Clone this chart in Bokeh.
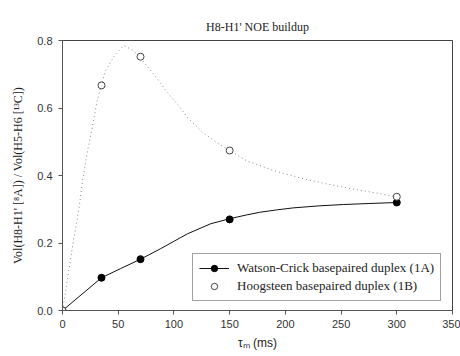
from bokeh.plotting import figure
from bokeh.models import Legend, LegendItem, Range1d, FixedTicker, NumeralTickFormatter
from bokeh.embed import file_html
from bokeh.resources import INLINE

# Data
tau_ms = [0, 35, 70, 150, 300]
wc_vals = [0.0, 0.097, 0.152, 0.270, 0.320]
hg_vals = [0.0, 0.667, 0.752, 0.474, 0.337]

# Fitted curves as drawn in the reference
wc_fit_x = [0, 35, 52, 70, 88, 112, 133, 150, 165, 177, 192, 207, 230, 252, 275, 300]
wc_fit_y = [0.0, 0.097, 0.124, 0.152, 0.183, 0.227, 0.257, 0.272, 0.283, 0.291, 0.298, 0.304, 0.310,
            0.314, 0.317, 0.320]
hg_fit_x = [0, 1, 9, 15, 18, 22, 27, 31, 35, 38.5, 47, 55, 64, 77, 85, 94, 106, 112, 126, 141, 150,
            165, 189, 213, 237, 261, 282, 300]
hg_fit_y = [0.0, 0.02, 0.19, 0.306, 0.385, 0.464, 0.548, 0.62, 0.67, 0.71, 0.757, 0.785, 0.77, 0.72,
            0.687, 0.646, 0.60, 0.572, 0.527, 0.492, 0.474, 0.444, 0.415, 0.393, 0.375, 0.36, 0.348, 0.336]

x_ticks = [0, 50, 100, 150, 200, 250, 300, 350]
y_ticks = [0.0, 0.2, 0.4, 0.6, 0.8]

p = figure(width=460, height=356, output_backend="svg", toolbar_location=None,
           x_range=Range1d(0, 350), y_range=Range1d(0, 0.8),
           min_border_left=62, min_border_right=8, min_border_top=40, min_border_bottom=46,
           title="H8-H1' NOE buildup")
p.title.align = "center"
p.title.text_font = "Liberation Serif"
p.title.text_font_size = "12px"
p.title.text_font_style = "normal"
p.title.text_color = "#222222"
p.title.standoff = 14

p.xgrid.visible = False
p.ygrid.visible = False
p.outline_line_color = "#444444"
p.outline_line_width = 1
p.background_fill_color = "white"
p.border_fill_color = "white"

for ax in (p.xaxis[0], p.yaxis[0]):
    ax.axis_line_color = "#555555"
    ax.major_tick_line_color = "#555555"
    ax.minor_tick_line_color = None
    ax.major_tick_in = 0
    ax.major_tick_out = 4
    ax.major_label_text_font = "Liberation Sans"
    ax.major_label_text_font_size = "11px"
    ax.major_label_text_color = "#333333"
    ax.axis_label_text_font_style = "normal"
    ax.axis_label_text_color = "#222222"

p.xaxis.ticker = FixedTicker(ticks=x_ticks)
p.yaxis.ticker = FixedTicker(ticks=y_ticks)
p.yaxis.formatter = NumeralTickFormatter(format="0.0")
p.xaxis.major_label_standoff = 5
p.yaxis.major_label_standoff = 6

p.xaxis.axis_label = "τₘ (ms)"
p.xaxis.axis_label_text_font = "Liberation Sans"
p.xaxis.axis_label_text_font_size = "12px"
p.xaxis.axis_label_standoff = 5

p.yaxis.axis_label = "Vol(H8-H1' [⁸A]) / Vol(H5-H6 [¹³C])"
p.yaxis.axis_label_text_font = "Liberation Serif"
p.yaxis.axis_label_text_font_size = "12px"
p.yaxis.axis_label_standoff = 9

# Curves
p.line(hg_fit_x, hg_fit_y, line_color="#8a8a8a", line_width=1, line_dash="1 3")
wc_line = p.line(wc_fit_x, wc_fit_y, line_color="#111111", line_width=1)

# Points
wc_pts = p.scatter(tau_ms, wc_vals, size=7, marker="circle", fill_color="black", line_color="black")
hg_pts = p.scatter(tau_ms, hg_vals, size=7, marker="circle", fill_color="white", line_color="#444444",
                   line_width=1)

legend = Legend(items=[
    LegendItem(label="Watson-Crick basepaired duplex (1A)", renderers=[wc_line, wc_pts]),
    LegendItem(label="Hoogsteen basepaired duplex (1B)", renderers=[hg_pts]),
], location=(130, 9))
legend.label_text_font = "Liberation Serif"
legend.label_text_font_size = "13px"
legend.label_text_color = "#222222"
legend.glyph_width = 30
legend.glyph_height = 16
legend.label_height = 16
legend.label_standoff = 8
legend.spacing = 2
legend.padding = 6
legend.margin = 0
legend.border_line_color = "#444444"
legend.border_line_width = 1
legend.background_fill_color = "white"
legend.background_fill_alpha = 1
p.add_layout(legend, "center")

open("out.html", "w").write(file_html(p, INLINE))
